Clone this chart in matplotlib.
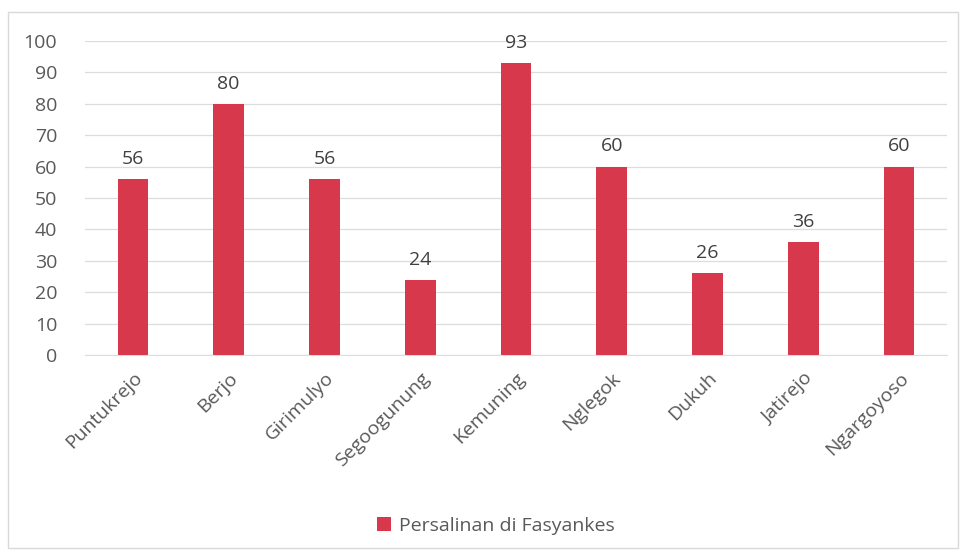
import matplotlib
matplotlib.use("Agg")
import matplotlib.pyplot as plt
from matplotlib.patches import Rectangle

categories = ["Puntukrejo", "Berjo", "Girimulyo", "Segoogunung", "Kemuning",
              "Nglegok", "Dukuh", "Jatirejo", "Ngargoyoso"]
values = [56, 80, 56, 24, 93, 60, 26, 36, 60]
series_name = "Persalinan di Fasyankes"
yticks = [0, 10, 20, 30, 40, 50, 60, 70, 80, 90, 100]

plt.rcParams['font.family'] = ['Open Sans', 'DejaVu Sans']
bar_color = "#D8384C"
text_color = "#595959"

fig = plt.figure(figsize=(9.64, 5.59), dpi=100)
fig.patch.set_facecolor("white")
# outer chart border
fig.add_artist(Rectangle((8/964, 1-548/559), (958-8)/964, (548-12)/559,
                         transform=fig.transFigure, fill=False,
                         edgecolor="#D9D9D9", linewidth=1.0))

ax = fig.add_axes([85/964, 1-355/559, (947-85)/964, (355-41)/559])
x = list(range(len(categories)))
bars = ax.bar(x, values, width=0.32, color=bar_color, label=series_name, zorder=3)
ax.set_xlim(-0.5, len(categories) - 0.5)
ax.set_ylim(0, 100)
ax.set_yticks(yticks)
ax.set_yticklabels([str(t) for t in yticks], fontsize=14, color=text_color)
ax.set_xticks(x)
ax.set_xticklabels(categories, rotation=45, ha="right", rotation_mode="anchor",
                   fontsize=14, color=text_color)
ax.tick_params(axis="both", length=0)
ax.tick_params(axis="y", pad=20)
ax.tick_params(axis="x", pad=10)
ax.grid(axis="y", color="#DDDDDD", linewidth=0.9, zorder=0)
for s in ["top", "right", "left"]:
    ax.spines[s].set_visible(False)
ax.spines["bottom"].set_color("#DDDDDD")

for xi, v in zip(x, values):
    ax.annotate(str(v), (xi, v), xytext=(0, 8), textcoords="offset points",
                ha="center", va="bottom", fontsize=14, color="#404040")

leg = fig.legend(handles=[bars], labels=[series_name], loc="center",
                 bbox_to_anchor=(496/964, 1-526/559), frameon=False,
                 fontsize=14, handlelength=0.7, handleheight=0.7,
                 handletextpad=0.4)
for t in leg.get_texts():
    t.set_color(text_color)

fig.savefig("out.png", dpi=100)
